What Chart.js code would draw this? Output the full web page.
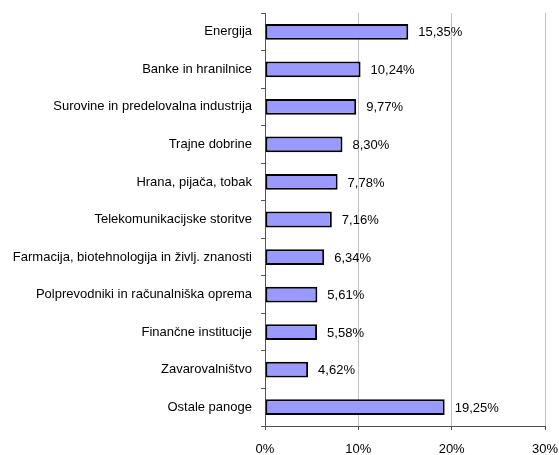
<!DOCTYPE html>
<html>
<head>
<meta charset="utf-8">
<script src="https://cdn.jsdelivr.net/npm/chart.js@4"></script>
<style>
  html, body { margin: 0; padding: 0; background: #fff; }
  #wrap { width: 559px; height: 455px; }
</style>
</head>
<body>
<div id="wrap"><canvas id="chart"></canvas></div>
<script>
// categories (top to bottom) and shares in %
const sectors = [
    "Energija",
    "Banke in hranilnice",
    "Surovine in predelovalna industrija",
    "Trajne dobrine",
    "Hrana, pijača, tobak",
    "Telekomunikacijske storitve",
    "Farmacija, biotehnologija in življ. znanosti",
    "Polprevodniki in računalniška oprema",
    "Finančne institucije",
    "Zavarovalništvo",
    "Ostale panoge"
];
const shares = [15.35, 10.24, 9.77, 8.30, 7.78, 7.16, 6.34, 5.61, 5.58, 4.62, 19.25];
const xTicks = [0, 10, 20, 30];

const FONT = "'Liberation Sans', Arial, sans-serif";

// value labels right of each bar, decimal comma like the original
const valueLabels = {
    id: "valueLabels",
    afterDatasetsDraw(chart) {
        const ctx = chart.ctx;
        const meta = chart.getDatasetMeta(0);
        ctx.save();
        ctx.font = "13px " + FONT;
        ctx.fillStyle = "#000";
        ctx.textAlign = "left";
        ctx.textBaseline = "middle";
        meta.data.forEach((bar, i) => {
            const txt = shares[i].toFixed(2).replace(".", ",") + "%";
            ctx.fillText(txt, bar.x + 10, bar.y + 1);
        });
        ctx.restore();
    }
};

new Chart(document.getElementById("chart"), {
    type: "bar",
    data: {
        labels: sectors,
        datasets: [{
            data: shares,
            backgroundColor: "#9999FF",
            borderColor: "#000",
            borderWidth: 2,
            borderSkipped: false,
            barPercentage: 0.42,
            categoryPercentage: 1
        }]
    },
    options: {
        indexAxis: "y",
        responsive: true,
        maintainAspectRatio: false,
        animation: false,
        layout: { padding: { left: 0, right: 14, top: 13, bottom: 0 } },
        plugins: {
            legend: { display: false },
            tooltip: { enabled: false }
        },
        scales: {
            x: {
                min: 0,
                max: 30,
                afterBuildTicks: scale => { scale.ticks = xTicks.map(v => ({ value: v })); },
                afterFit: scale => {
                    scale.height = 29;
                    scale.paddingLeft = 0;
                    scale.paddingRight = 0;
                },
                ticks: {
                    color: "#000",
                    font: { family: FONT, size: 13 },
                    padding: 12,
                    maxRotation: 0,
                    callback: v => v + "%"
                },
                grid: {
                    color: ctx => ctx.index === 0 ? "rgba(0,0,0,0)" : "#c0c0c0",
                    tickColor: "#555",
                    tickLength: 4,
                    lineWidth: 1
                },
                border: { display: true, color: "#555", width: 1 }
            },
            y: {
                afterFit: scale => {
                    scale.width = 265;
                    scale.paddingTop = 0;
                    scale.paddingBottom = 0;
                },
                ticks: {
                    color: "#000",
                    font: { family: FONT, size: 13 },
                    padding: 9
                },
                grid: {
                    offset: true,
                    drawOnChartArea: false,
                    tickColor: "#555",
                    tickLength: 4
                },
                border: { display: true, color: "#555", width: 1 }
            }
        }
    },
    plugins: [valueLabels]
});
</script>
</body>
</html>
